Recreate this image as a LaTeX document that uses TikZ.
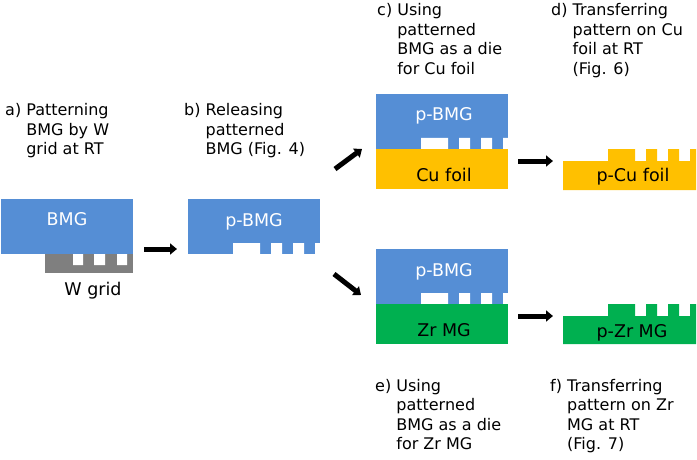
\documentclass[tikz,border=0pt]{standalone}
\usepackage{fontspec}
\setmainfont{DejaVu Sans}
\usetikzlibrary{arrows.meta}
\definecolor{bmgblue}{HTML}{558ED5}
\definecolor{cugold}{HTML}{FFC000}
\definecolor{zrgreen}{HTML}{00B050}
\definecolor{wgray}{HTML}{7F7F7F}
\newcommand{\steplabel}[2]{\begin{tabular}[t]{@{}l@{\ }l@{}}#1&#2\end{tabular}}
\begin{document}
\begin{tikzpicture}[x=1pt,y=-1pt,
  flow/.style={line width=5pt,-{Triangle[length=7pt,width=11pt]}},
  lbl/.style={anchor=base west,inner sep=0pt,font=\fontsize{16}{19.5}\selectfont},
  boxtxt/.style={inner sep=0pt,anchor=base,font=\fontsize{17.5}{20}\selectfont}]
\useasboundingbox (0,0) rectangle (697,460);

% a) BMG on W grid
\fill[bmgblue] (1,199) rectangle (133,254);
\fill[wgray] (45,254) rectangle (133,273);
\fill[white] (73,254) rectangle (83,265) (94,254) rectangle (105,265) (117,254) rectangle (127,265);
\node[boxtxt,text=white] (tBMG) at (67,225) {BMG};
\node[boxtxt] (tW) at (93,295) {W grid};

% b) released p-BMG
\fill[bmgblue] (188,199) rectangle (320,254);
\fill[white] (233,243) rectangle (260,254) (271,243) rectangle (282,254) (293,243) rectangle (304,254) (315,243) rectangle (320.5,254);
\node[boxtxt,text=white] (tPB) at (254,226) {p-BMG};

% c) p-BMG on Cu foil
\fill[bmgblue] (376,94) rectangle (508,149);
\fill[white] (421,138) rectangle (448,149) (459,138) rectangle (470,149) (481,138) rectangle (492,149) (503,138) rectangle (508.5,149);
\fill[cugold] (376,149) rectangle (508,189);
\node[boxtxt,text=white] (tPBc) at (444,121) {p-BMG};
\node[boxtxt] (tCu) at (444,181) {Cu foil};

% d) p-Cu foil
\fill[cugold] (563,190) -- (563,161) -- (608,161) -- (608,149) -- (635,149) -- (635,161) -- (646,161) -- (646,149) -- (657,149) -- (657,161) -- (668,161) -- (668,149) -- (679,149) -- (679,161) -- (690,161) -- (690,149) -- (696,149) -- (696,190) -- cycle;
\node[boxtxt] (tPCu) at (633,182) {p-Cu foil};

% e) p-BMG on Zr MG
\fill[bmgblue] (376,249) rectangle (508,304);
\fill[white] (421,293) rectangle (448,304) (459,293) rectangle (470,304) (481,293) rectangle (492,304) (503,293) rectangle (508.5,304);
\fill[zrgreen] (376,304) rectangle (508,344);
\node[boxtxt,text=white] (tPBe) at (444,276) {p-BMG};
\node[boxtxt] (tZr) at (444,336) {Zr MG};

% f) p-Zr MG
\fill[zrgreen] (563,344) -- (563,316) -- (608,316) -- (608,304) -- (635,304) -- (635,316) -- (646,316) -- (646,304) -- (657,304) -- (657,316) -- (668,316) -- (668,304) -- (679,304) -- (679,316) -- (690,316) -- (690,304) -- (696,304) -- (696,344) -- cycle;
\node[boxtxt] (tPZr) at (632,337) {p-Zr MG};

% labels
\node[lbl] (la) at (5,116) {\steplabel{a)}{Patterning\\&BMG by W\\&grid at RT}};
\node[lbl] (lb) at (184,116) {\steplabel{b)}{Releasing\\&patterned\\&BMG (Fig. 4)}};
\node[lbl] (lc) at (377,16) {\steplabel{c)}{Using\\&patterned\\&BMG as a die\\&for Cu foil}};
\node[lbl] (ld) at (551,16) {\steplabel{d)}{Transferring\\&pattern on Cu\\&foil at RT\\&(Fig. 6)}};
\node[lbl] (le) at (375,391) {\steplabel{e)}{Using\\&patterned\\&BMG as a die\\&for Zr MG}};
\node[lbl] (lf) at (550,391) {\steplabel{f)}{Transferring\\&pattern on Zr\\&MG at RT\\&(Fig. 7)}};

% arrows
\coordinate (a1) at (144,249); \coordinate (a2) at (177,249);
\coordinate (b1) at (335,169); \coordinate (b2) at (362,149);
\coordinate (e1) at (334,274); \coordinate (e2) at (361,295);
\coordinate (c1) at (518,161); \coordinate (c2) at (553,161);
\coordinate (f1) at (518,316); \coordinate (f2) at (553,316);
\draw[flow] (a1) -- (a2);
\draw[flow] (b1) -- (b2);
\draw[flow] (e1) -- (e2);
\draw[flow] (c1) -- (c2);
\draw[flow] (f1) -- (f2);
\end{tikzpicture}
\end{document}
